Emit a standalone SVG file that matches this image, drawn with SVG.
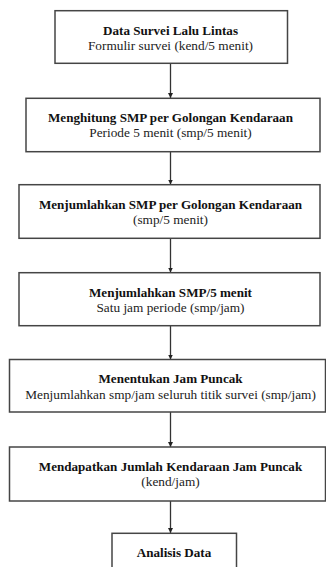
<svg xmlns="http://www.w3.org/2000/svg" width="326" height="567" viewBox="0 0 326 567">
<defs>
<marker id="ah" viewBox="0 0 10 10" refX="10" refY="5" markerWidth="5" markerHeight="6" orient="auto" markerUnits="userSpaceOnUse">
<path d="M0,0 L10,5 L0,10 z" fill="#222"/>
</marker>
<style>
.box{fill:#fff;stroke:#454545;stroke-width:1.5}
text{font-family:'Liberation Serif','Times New Roman',Times,serif;text-anchor:middle}
.t{font-size:13.1px;font-weight:bold;fill:#111}
.s{font-size:13.3px;fill:#222}
.c{stroke:#333;stroke-width:1.3;fill:none;marker-end:url(#ah)}
</style>
</defs>
<rect width="326" height="567" fill="#fff"/>
<g id="connectors">
<line class="c" x1="170.5" y1="63.5" x2="170.5" y2="98"/>
<line class="c" x1="170.5" y1="152" x2="170.5" y2="184.5"/>
<line class="c" x1="170.5" y1="238.5" x2="170.5" y2="272.5"/>
<line class="c" x1="170.5" y1="326" x2="170.5" y2="359.5"/>
<line class="c" x1="170.5" y1="412" x2="170.5" y2="447"/>
<line class="c" x1="170.5" y1="501" x2="170.5" y2="533"/>
</g>
<g id="n1">
<rect class="box" x="55" y="10.7" width="232.5" height="52.6"/>
<text class="t" x="170.5" y="35" font-family="Liberation Serif, serif">Data Survei Lalu Lintas</text>
<text class="s" x="170.5" y="50" font-family="Liberation Serif, serif">Formulir survei (kend/5 menit)</text>
</g>
<g id="n2">
<rect class="box" x="26" y="98.3" width="294" height="53.4"/>
<text class="t" x="170.5" y="122">Menghitung SMP per Golongan Kendaraan</text>
<text class="s" x="170.5" y="137">Periode 5 menit (smp/5 menit)</text>
</g>
<g id="n3">
<rect class="box" x="19" y="184.7" width="301" height="53.6"/>
<text class="t" x="170.5" y="209">Menjumlahkan SMP per Golongan Kendaraan</text>
<text class="s" x="170.5" y="224">(smp/5 menit)</text>
</g>
<g id="n4">
<rect class="box" x="19" y="272.7" width="301" height="53"/>
<text class="t" x="170.5" y="297">Menjumlahkan SMP/5 menit</text>
<text class="s" x="170.5" y="312">Satu jam periode (smp/jam)</text>
</g>
<g id="n5">
<rect class="box" x="9.5" y="359.5" width="316" height="52.5"/>
<text class="t" x="170.5" y="383">Menentukan Jam Puncak</text>
<text class="s" x="170.5" y="399">Menjumlahkan smp/jam seluruh titik survei (smp/jam)</text>
</g>
<g id="n6">
<rect class="box" x="9.5" y="447" width="316" height="54"/>
<text class="t" x="170.5" y="471">Mendapatkan Jumlah Kendaraan Jam Puncak</text>
<text class="s" x="170.5" y="486">(kend/jam)</text>
</g>
<g id="n7">
<rect class="box" x="112" y="533.3" width="124.5" height="40"/>
<text class="t" x="174" y="556.7">Analisis Data</text>
</g>
</svg>
